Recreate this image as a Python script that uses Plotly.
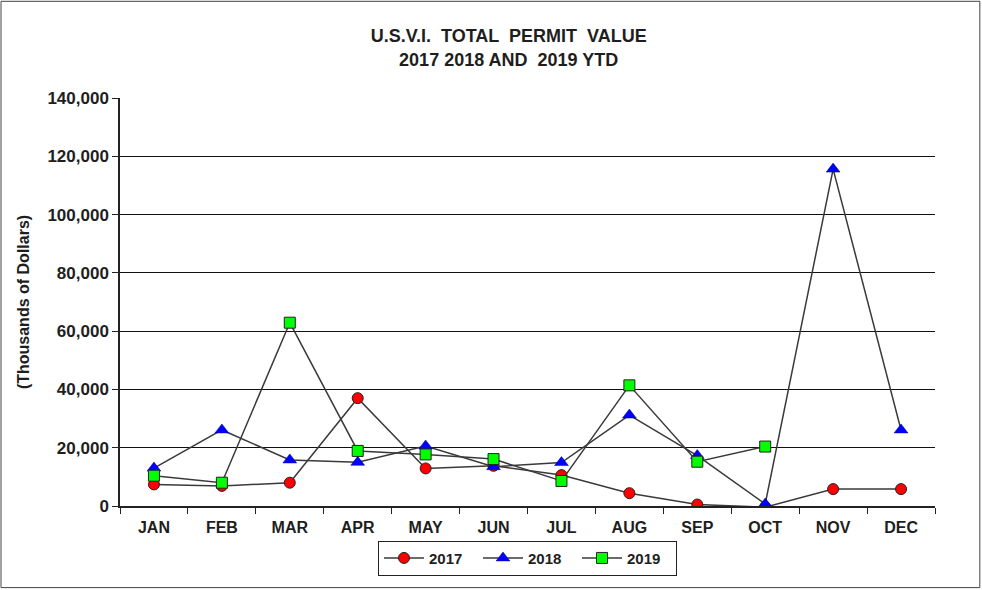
import plotly.graph_objects as go

months = ["JAN", "FEB", "MAR", "APR", "MAY", "JUN", "JUL", "AUG", "SEP", "OCT", "NOV", "DEC"]
v2017 = [7400, 6900, 8000, 37000, 12900, 13800, 10600, 4400, 500, -400, 5800, 5800]
v2018 = [13000, 26100, 15800, 15000, 20600, 13500, 14900, 31200, 17300, 700, 115600, 26100]
v2019 = [10400, 8000, 62900, 18900, 17700, 16100, 8600, 41400, 15200, 20400, None, None]
y_ticks = [0, 20000, 40000, 60000, 80000, 100000, 120000, 140000]

FONT = "Liberation Sans, Arial, sans-serif"
TXT = "#1e1e1e"
LINE = dict(color="#3a3a3a", width=1.5)

fig = go.Figure()
fig.add_trace(go.Scatter(x=months, y=v2017, name="2017", mode="lines+markers", line=LINE,
                         marker=dict(symbol="circle", size=11, color="#ff0000",
                                     line=dict(color="#222222", width=1))))
fig.add_trace(go.Scatter(x=months, y=v2018, name="2018", mode="lines+markers", line=LINE,
                         marker=dict(symbol="triangle-up", size=12, color="#0000ff",
                                     line=dict(color="#000080", width=0.5))))
fig.add_trace(go.Scatter(x=months, y=v2019, name="2019", mode="lines+markers", line=LINE,
                         marker=dict(symbol="square", size=11, color="#00ff00",
                                     line=dict(color="#222222", width=1))))

fig.update_layout(
    width=982, height=590,
    margin=dict(l=120, r=47, t=98, b=84),
    paper_bgcolor="white", plot_bgcolor="white",
    font=dict(family=FONT, size=14, color=TXT),
    title=dict(text="U.S.V.I.  TOTAL  PERMIT  VALUE<br>2017 2018 AND  2019 YTD",
               x=0.518, xanchor="center", y=0.928, yanchor="top",
               font=dict(family=FONT, size=18, color=TXT, weight="bold")),
    showlegend=True,
    legend=dict(orientation="h", x=0.5, xanchor="center", y=-0.085, yanchor="top",
                bordercolor="#222222", borderwidth=1, bgcolor="white",
                font=dict(family=FONT, size=15, color=TXT, weight="bold"),
                itemwidth=40, entrywidth=44, tracegroupgap=0),
    shapes=[dict(type="rect", xref="paper", yref="paper",
                 x0=-0.146, x1=1.055, y0=-0.2, y1=1.237,
                 line=dict(color="#444444", width=1), layer="below")],
)

fig.update_xaxes(
    type="category", range=[-0.5, 11.5], tickson="boundaries", ticks="outside", ticklen=6,
    tickcolor="#222222", ticklabelstandoff=6,
    showline=True, linecolor="#222222", linewidth=1.5, showgrid=False,
    tickfont=dict(family=FONT, size=16, color=TXT, weight="bold"),
)
fig.update_yaxes(
    range=[0, 140000], tickvals=y_ticks, tickformat=",d",
    ticks="outside", ticklen=6, tickcolor="#222222",
    showline=True, linecolor="#222222", linewidth=1.5,
    showgrid=True, gridcolor="#111111", gridwidth=1.2, zeroline=False,
    tickfont=dict(family=FONT, size=17, color=TXT, weight="bold"),
    title=dict(text="(Thousands of Dollars)", standoff=14,
               font=dict(family=FONT, size=16, color=TXT, weight="bold")),
)

fig.write_html("out.html", config={"displayModeBar": False},
               post_script="document.body.style.margin='0px';")
